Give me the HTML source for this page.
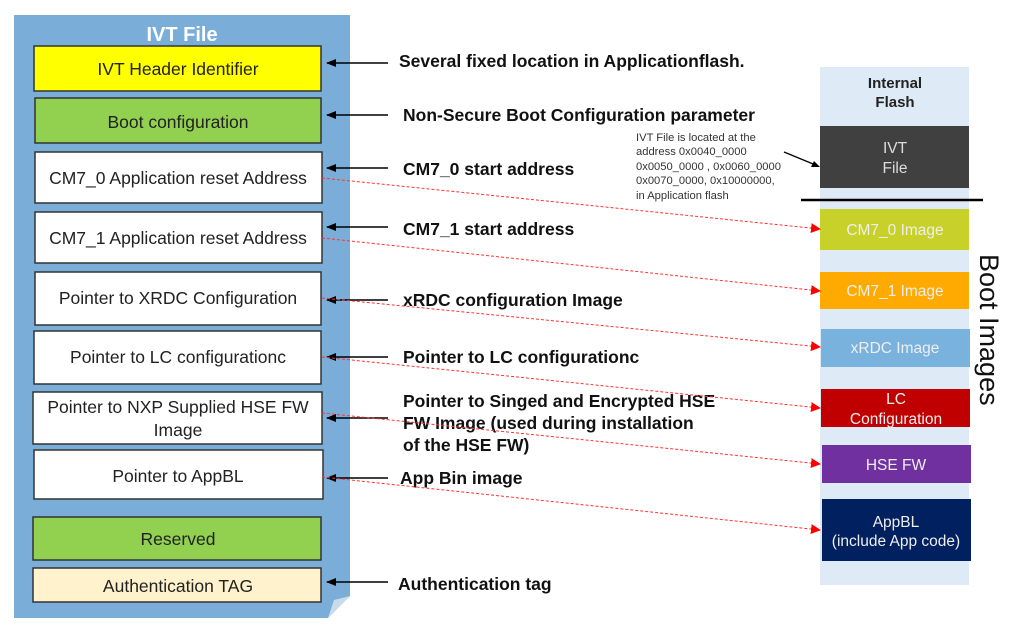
<!DOCTYPE html>
<html><head><style>
body{margin:0;background:#fff;}
svg text{font-family:"Liberation Sans",Arial,sans-serif;}
</style></head><body>
<svg width="1024" height="633" viewBox="0 0 1024 633" xmlns="http://www.w3.org/2000/svg">
<defs>
<marker id="ba" markerWidth="10" markerHeight="8" refX="1" refY="4" orient="auto" markerUnits="userSpaceOnUse"><path d="M10,0 L0,4 L10,8 Z" fill="#000"/></marker>
<marker id="ra" markerWidth="10" markerHeight="10" refX="9" refY="5" orient="auto" markerUnits="userSpaceOnUse"><path d="M0,0 L10,5 L0,10 Z" fill="#f00"/></marker>
</defs>
<path d="M14,15 H350 V596 L328,618 H14 Z" fill="#7aaed9"/>
<path d="M328,618 L350,596 L334,600 Z" fill="#c9dbea"/>
<text x="182" y="41" font-size="20" font-weight="bold" fill="#fff" text-anchor="middle">IVT File</text>
<g stroke="#333" stroke-width="1.5">
<rect x="34" y="46" width="287" height="45" fill="#ffff00"/>
<rect x="35" y="98" width="286" height="45" fill="#92d050"/>
<rect x="35" y="152" width="287" height="51" fill="#fff"/>
<rect x="35" y="212" width="287" height="51" fill="#fff"/>
<rect x="35" y="272" width="286" height="53" fill="#fff"/>
<rect x="34" y="331" width="287" height="53" fill="#fff"/>
<rect x="33" y="392" width="289" height="52" fill="#fff"/>
<rect x="34" y="450" width="289" height="49" fill="#fff"/>
<rect x="33" y="517" width="288" height="43" fill="#92d050"/>
<rect x="33" y="568" width="288" height="34" fill="#fff2cc"/>
</g>
<g font-size="17.5" fill="#222" text-anchor="middle">
<text x="178" y="75">IVT Header Identifier</text>
<text x="178" y="128">Boot configuration</text>
<text x="178" y="184">CM7_0 Application reset Address</text>
<text x="178" y="244">CM7_1 Application reset Address</text>
<text x="178" y="304">Pointer to XRDC Configuration</text>
<text x="178" y="363">Pointer to LC configurationc</text>
<text x="178" y="413">Pointer to NXP Supplied HSE FW</text>
<text x="178" y="436">Image</text>
<text x="178" y="482">Pointer to AppBL</text>
<text x="178" y="545">Reserved</text>
<text x="178" y="592">Authentication TAG</text>
</g>
<g stroke="#000" stroke-width="1.5" marker-start="url(#ba)">
<line x1="327" y1="63" x2="388" y2="63"/>
<line x1="327" y1="115" x2="388" y2="115"/>
<line x1="327" y1="168" x2="388" y2="168"/>
<line x1="327" y1="227" x2="388" y2="227"/>
<line x1="327" y1="300" x2="388" y2="300"/>
<line x1="327" y1="357" x2="388" y2="357"/>
<line x1="327" y1="418" x2="388" y2="418"/>
<line x1="327" y1="478" x2="388" y2="478"/>
<line x1="327" y1="582" x2="388" y2="582"/>
</g>
<g font-size="17.5" font-weight="bold" fill="#111">
<text x="399" y="67">Several fixed location in Applicationflash.</text>
<text x="403" y="121">Non-Secure Boot Configuration parameter</text>
<text x="403" y="175">CM7_0 start address</text>
<text x="403" y="235">CM7_1 start address</text>
<text x="403" y="306">xRDC configuration Image</text>
<text x="403" y="363">Pointer to LC configurationc</text>
<text x="403" y="407">Pointer to Singed and Encrypted HSE</text>
<text x="403" y="429">FW Image (used during installation</text>
<text x="403" y="451">of the HSE FW)</text>
<text x="400" y="484">App Bin image</text>
<text x="398" y="590">Authentication tag</text>
</g>
<rect x="820" y="67" width="149" height="518" fill="#deebf6"/>
<g font-size="15" font-weight="bold" fill="#222" text-anchor="middle">
<text x="895" y="88">Internal</text><text x="895" y="107">Flash</text>
</g>
<rect x="820" y="126" width="149" height="62" fill="#404040"/>
<g font-size="15.5" fill="#ddd" text-anchor="middle"><text x="895" y="153">IVT</text><text x="895" y="173">File</text></g>
<line x1="801" y1="200" x2="983" y2="200" stroke="#000" stroke-width="2.5"/>
<rect x="820" y="209" width="149" height="41" fill="#c8d12a"/>
<rect x="820" y="272" width="149" height="37" fill="#ffaa00"/>
<rect x="821" y="329" width="149" height="38" fill="#7ab2de"/>
<rect x="821" y="389" width="149" height="38" fill="#c00000"/>
<rect x="822" y="445" width="149" height="38" fill="#7030a0"/>
<rect x="822" y="499" width="149" height="62" fill="#002060"/>
<g font-size="15.5" fill="#eee" text-anchor="middle">
<text x="895" y="235">CM7_0 Image</text>
<text x="895" y="296">CM7_1 Image</text>
<text x="895" y="353">xRDC Image</text>
<text x="896" y="404">LC</text><text x="896" y="424">Configuration</text>
<text x="896" y="470">HSE FW</text>
<text x="896" y="527">AppBL</text><text x="896" y="546">(include App code)</text>
</g>
<text x="0" y="0" font-size="27" fill="#111" transform="translate(980,254) rotate(90)">Boot Images</text>
<g font-size="11.2" fill="#333">
<text x="636" y="141">IVT File is located at the</text>
<text x="636" y="155">address 0x0040_0000</text>
<text x="636" y="170">0x0050_0000  , 0x0060_0000</text>
<text x="636" y="184">0x0070_0000,  0x10000000,</text>
<text x="636" y="199">in Application flash</text>
</g>
<line x1="784" y1="152" x2="818" y2="166" stroke="#000" stroke-width="1.3"/>
<path d="M820,167 L811,167 L814,161 Z" fill="#000"/>
<g stroke="#f33" stroke-width="1" stroke-dasharray="3,2" fill="none" marker-end="url(#ra)">
<line x1="322" y1="178" x2="820" y2="229"/>
<line x1="322" y1="238" x2="820" y2="291"/>
<line x1="322" y1="298" x2="820" y2="347"/>
<line x1="322" y1="357" x2="820" y2="408"/>
<line x1="322" y1="413" x2="820" y2="464"/>
<line x1="322" y1="477" x2="820" y2="530"/>
</g>
</svg>
</body></html>
